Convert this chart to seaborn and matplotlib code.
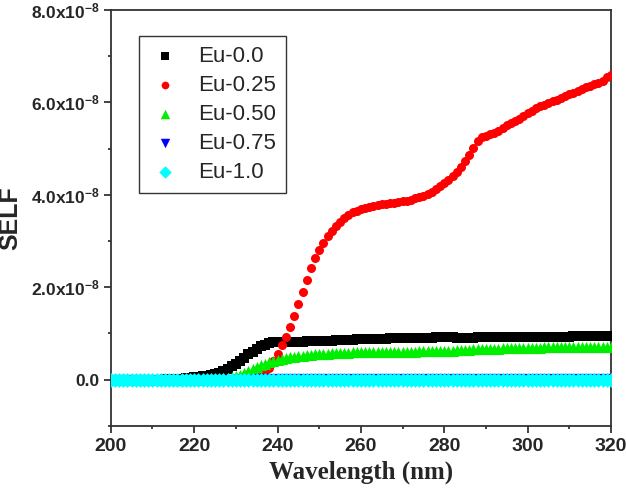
import numpy as np
import pandas as pd
import seaborn as sns
import matplotlib.pyplot as plt
from matplotlib.ticker import MultipleLocator, FuncFormatter

# wavelength grid (nm), one point per nm
wavelength = list(range(200, 321))

# SELF values in units of 1e-8
eu_000 = [
    0.00, 0.00, 0.00, 0.00, 0.00, 0.00, 0.00, 0.00, 0.00, 0.00,
    0.00, 0.00, 0.00, 0.01, 0.01, 0.01, 0.02, 0.02, 0.03, 0.04,
    0.05, 0.06, 0.07, 0.08, 0.10, 0.12, 0.15, 0.19, 0.24, 0.29,
    0.35, 0.41, 0.48, 0.55, 0.61, 0.67, 0.72, 0.76, 0.79, 0.81,
    0.82, 0.82, 0.82, 0.82, 0.82, 0.82, 0.82, 0.83, 0.83, 0.83,
    0.83, 0.84, 0.84, 0.84, 0.85, 0.85, 0.85, 0.86, 0.86, 0.87,
    0.87, 0.87, 0.88, 0.88, 0.89, 0.89, 0.89, 0.90, 0.90, 0.90,
    0.91, 0.91, 0.91, 0.91, 0.91, 0.91, 0.91, 0.91, 0.92, 0.92,
    0.92, 0.92, 0.92, 0.91, 0.91, 0.91, 0.91, 0.91, 0.92, 0.92,
    0.92, 0.92, 0.92, 0.93, 0.93, 0.93, 0.93, 0.93, 0.93, 0.93,
    0.93, 0.93, 0.93, 0.93, 0.93, 0.93, 0.93, 0.93, 0.93, 0.93,
    0.93, 0.94, 0.94, 0.94, 0.94, 0.94, 0.94, 0.94, 0.94, 0.94,
    0.94,
]

eu_025 = [
    0.00, 0.00, 0.00, 0.00, 0.00, 0.00, 0.00, 0.00, 0.00, 0.00,
    0.00, 0.00, 0.00, 0.00, 0.00, 0.00, 0.00, 0.00, 0.00, 0.00,
    0.00, 0.00, 0.00, 0.01, 0.01, 0.01, 0.01, 0.02, 0.02, 0.02,
    0.03, 0.03, 0.04, 0.04, 0.05, 0.05, 0.06, 0.14, 0.26, 0.40,
    0.56, 0.75, 0.92, 1.13, 1.38, 1.63, 1.90, 2.16, 2.42, 2.64,
    2.80, 2.96, 3.10, 3.22, 3.33, 3.42, 3.50, 3.56, 3.62, 3.66,
    3.69, 3.71, 3.73, 3.75, 3.77, 3.79, 3.81, 3.82, 3.83, 3.84,
    3.86, 3.87, 3.89, 3.92, 3.95, 3.98, 4.02, 4.07, 4.12, 4.18,
    4.25, 4.32, 4.40, 4.50, 4.60, 4.73, 4.87, 5.02, 5.16, 5.24,
    5.28, 5.31, 5.34, 5.38, 5.44, 5.50, 5.55, 5.60, 5.65, 5.70,
    5.76, 5.82, 5.87, 5.91, 5.95, 5.99, 6.02, 6.06, 6.09, 6.13,
    6.17, 6.20, 6.24, 6.28, 6.33, 6.36, 6.39, 6.42, 6.47, 6.54,
    6.60,
]

eu_050 = [
    0.00, 0.00, 0.00, 0.00, 0.00, 0.00, 0.00, 0.00, 0.00, 0.00,
    0.00, 0.00, 0.00, 0.00, 0.00, 0.00, 0.00, 0.00, 0.00, 0.00,
    0.00, 0.00, 0.00, 0.00, 0.01, 0.01, 0.02, 0.03, 0.04, 0.06,
    0.08, 0.11, 0.15, 0.19, 0.24, 0.28, 0.32, 0.35, 0.38, 0.41,
    0.43, 0.45, 0.47, 0.49, 0.50, 0.51, 0.52, 0.53, 0.54, 0.55,
    0.55, 0.56, 0.56, 0.57, 0.57, 0.58, 0.58, 0.58, 0.59, 0.59,
    0.59, 0.59, 0.60, 0.60, 0.60, 0.60, 0.60, 0.61, 0.61, 0.61,
    0.61, 0.61, 0.61, 0.61, 0.62, 0.62, 0.62, 0.62, 0.62, 0.62,
    0.63, 0.63, 0.63, 0.64, 0.64, 0.65, 0.65, 0.66, 0.66, 0.66,
    0.67, 0.67, 0.67, 0.67, 0.68, 0.68, 0.68, 0.68, 0.68, 0.69,
    0.69, 0.69, 0.69, 0.69, 0.70, 0.70, 0.70, 0.70, 0.70, 0.70,
    0.70, 0.70, 0.70, 0.71, 0.71, 0.71, 0.71, 0.71, 0.71, 0.71,
    0.71,
]

eu_075 = [
    0.00, 0.00, 0.00, 0.00, 0.00, 0.00, 0.00, 0.00, 0.00, 0.00,
    0.00, 0.00, 0.00, 0.00, 0.00, 0.00, 0.00, 0.00, 0.00, 0.00,
    0.00, 0.00, 0.00, 0.00, 0.00, 0.00, 0.00, 0.00, 0.00, 0.00,
    0.00, 0.00, 0.00, 0.00, 0.00, 0.01, 0.01, 0.01, 0.01, 0.01,
    0.01, 0.01, 0.01, 0.01, 0.01, 0.01, 0.01, 0.01, 0.01, 0.01,
    0.01, 0.01, 0.01, 0.01, 0.01, 0.01, 0.01, 0.01, 0.01, 0.01,
    0.01, 0.01, 0.01, 0.01, 0.01, 0.01, 0.01, 0.01, 0.01, 0.01,
    0.01, 0.01, 0.01, 0.01, 0.01, 0.01, 0.01, 0.01, 0.01, 0.01,
    0.01, 0.01, 0.01, 0.01, 0.01, 0.01, 0.01, 0.01, 0.01, 0.01,
    0.01, 0.01, 0.01, 0.01, 0.01, 0.01, 0.01, 0.01, 0.01, 0.01,
    0.01, 0.01, 0.01, 0.01, 0.01, 0.01, 0.01, 0.01, 0.01, 0.01,
    0.01, 0.01, 0.01, 0.01, 0.01, 0.01, 0.01, 0.01, 0.01, 0.01,
    0.01,
]

eu_100 = [
    0.00, 0.00, 0.00, 0.00, 0.00, 0.00, 0.00, 0.00, 0.00, 0.00,
    0.00, 0.00, 0.00, 0.00, 0.00, 0.00, 0.00, 0.00, 0.00, 0.00,
    0.00, 0.00, 0.00, 0.00, 0.00, 0.00, 0.00, 0.00, 0.00, 0.00,
    0.00, 0.00, 0.00, 0.00, 0.00, 0.00, 0.00, 0.00, 0.00, 0.00,
    0.00, 0.00, 0.00, 0.00, 0.00, 0.00, 0.00, 0.00, 0.00, 0.00,
    0.00, 0.00, 0.00, 0.00, 0.00, 0.00, 0.00, 0.00, 0.00, 0.00,
    0.00, 0.00, 0.00, 0.00, 0.00, 0.00, 0.00, 0.00, 0.00, 0.00,
    0.00, 0.00, 0.00, 0.00, 0.00, 0.00, 0.00, 0.00, 0.00, 0.00,
    0.00, 0.00, 0.00, 0.00, 0.00, 0.00, 0.00, 0.00, 0.00, 0.00,
    0.00, 0.00, 0.00, 0.00, 0.00, 0.00, 0.00, 0.00, 0.00, 0.00,
    0.00, 0.00, 0.00, 0.00, 0.00, 0.00, 0.00, 0.00, 0.00, 0.00,
    0.00, 0.00, 0.00, 0.00, 0.00, 0.00, 0.00, 0.00, 0.00, 0.00,
    0.00,
]

labels = ['Eu-0.0', 'Eu-0.25', 'Eu-0.50', 'Eu-0.75', 'Eu-1.0']
series = [eu_000, eu_025, eu_050, eu_075, eu_100]

# style per series: (colour, marker, marker size in pt)
styles = [
    ('#000000', 's', 6.5),
    ('#ff0000', 'o', 6.5),
    ('#00ee00', '^', 8.0),
    ('#0000ff', 'v', 8.0),
    ('#00ffff', 'D', 7.5),
]

sns.set_theme(style='ticks')
plt.rcParams['font.family'] = ['Liberation Sans', 'DejaVu Sans']
plt.rcParams['mathtext.fontset'] = 'custom'
plt.rcParams['mathtext.rm'] = 'Liberation Sans'
plt.rcParams['mathtext.bf'] = 'Liberation Sans:bold'

rows = []
for name, vals in zip(labels, series):
    for w, v in zip(wavelength, vals):
        rows.append({'Wavelength': w, 'SELF': v * 1e-8, 'sample': name})
df = pd.DataFrame(rows)

fig = plt.figure(figsize=(6.26, 4.93), dpi=100)
ax = fig.add_axes([0.177, 0.136, 0.799, 0.844])

for name, (color, marker, ms) in zip(labels, styles):
    sub = df[df['sample'] == name]
    sns.scatterplot(data=sub, x='Wavelength', y='SELF', ax=ax, color=color,
                    marker=marker, s=ms ** 2, linewidth=0, label=name,
                    zorder=3)

ax.set_xlim(200, 320)
ax.set_ylim(-1e-8, 8e-8)
ax.xaxis.set_major_locator(MultipleLocator(20))
ax.xaxis.set_minor_locator(MultipleLocator(10))
ax.yaxis.set_major_locator(MultipleLocator(2e-8))
ax.yaxis.set_minor_locator(MultipleLocator(1e-8))


def ytick_fmt(v, pos):
    if abs(v) < 1e-12:
        return '0.0'
    return r'$\mathbf{%.1fx10^{-8}}$' % (v / 1e-8)


ax.yaxis.set_major_formatter(FuncFormatter(ytick_fmt))

ax.tick_params(axis='both', which='major', direction='out', length=5,
               width=1.2, color='#222222')
ax.tick_params(axis='both', which='minor', direction='out', length=2.5,
               width=1.2, color='#222222')
ax.tick_params(axis='x', labelsize=14, pad=4)
ax.tick_params(axis='y', labelsize=12.5, pad=3)
for lab in ax.get_xticklabels() + ax.get_yticklabels():
    lab.set_fontweight('bold')

for side in ['top', 'right', 'bottom', 'left']:
    ax.spines[side].set_visible(True)
    ax.spines[side].set_color('#333333')
    ax.spines[side].set_linewidth(1.3)

ax.set_xlabel('Wavelength (nm)', fontsize=18, fontweight='bold',
              family='Liberation Serif', labelpad=4)
ax.set_ylabel('SELF', fontsize=18, fontweight='bold', labelpad=6)

leg = ax.legend(loc='upper left', bbox_to_anchor=(0.056, 0.9375),
                borderaxespad=0, fontsize=16, frameon=True, fancybox=False,
                labelspacing=0.36, handletextpad=0.7, borderpad=0.45,
                handlelength=1.5, markerscale=0.85)
leg.get_frame().set_edgecolor('#333333')
leg.get_frame().set_linewidth(1.0)
leg.get_frame().set_alpha(1)

fig.savefig('out.png', dpi=100)
